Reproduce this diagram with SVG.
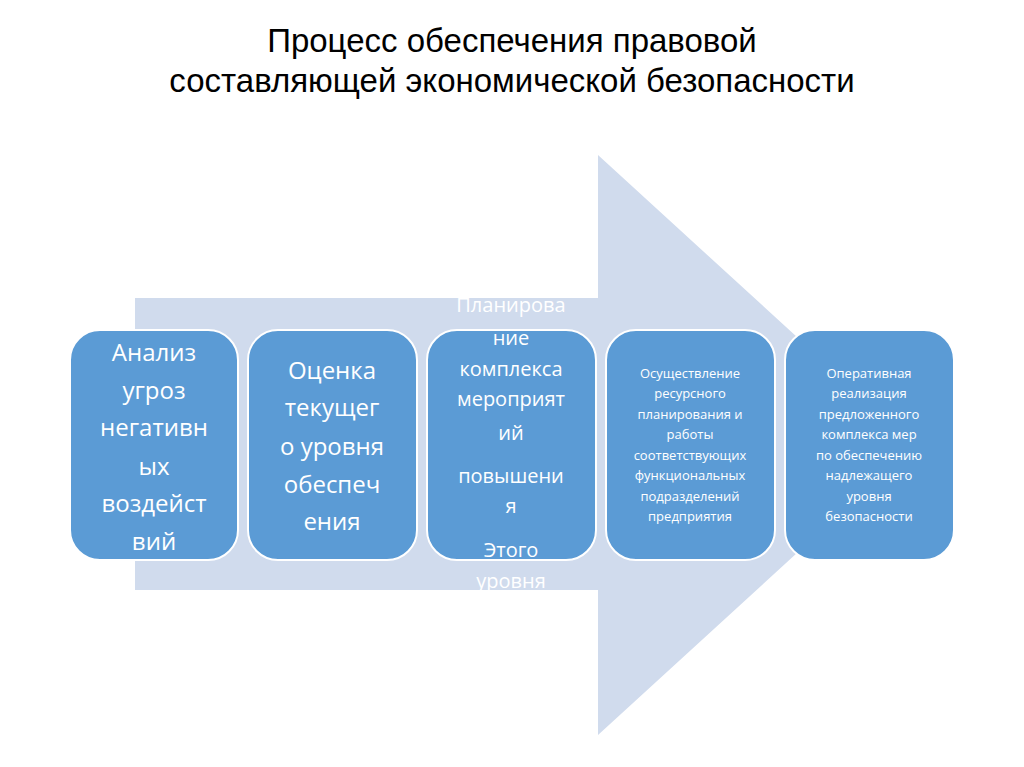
<svg xmlns="http://www.w3.org/2000/svg" width="1024" height="767" viewBox="0 0 1024 767">
<style>
.t{font-family:"Liberation Sans",Arial,sans-serif;fill:#000;font-size:33px;text-anchor:middle}
.b{fill:#5b9bd5;stroke:#fff;stroke-width:2}
.L{font-family:"Open Sans","Noto Sans",sans-serif;fill:#fff;font-size:24px;text-anchor:middle}
.S{font-family:"Open Sans","Noto Sans",sans-serif;fill:#fff;font-size:13px;text-anchor:middle}
</style>
<rect width="1024" height="767" fill="#fff"/>
<text class="t" x="512" y="52">Процесс обеспечения правовой</text>
<text class="t" x="512" y="92">составляющей экономической безопасности</text>
<g id="connectors">
<polygon points="135,298 598,298 598,155 915,445 598,735 598,590 135,590" fill="#d0dbed"/>
</g>
<g id="n1"><rect class="b" x="70" y="330" width="168" height="230" rx="30"/>
<text class="L" x="154" y="361">Анализ</text><text class="L" x="154" y="399">угроз</text><text class="L" x="154" y="436">негативн</text><text class="L" x="154" y="475">ых</text><text class="L" x="154" y="512">воздейст</text><text class="L" x="154" y="550">вий</text></g>
<g id="n2"><rect class="b" x="248" y="330" width="169" height="230" rx="30"/>
<text class="L" x="332" y="379">Оценка</text><text class="L" x="332" y="416">текущег</text><text class="L" x="332" y="455">о уровня</text><text class="L" x="332" y="493">обеспеч</text><text class="L" x="332" y="530">ения</text></g>
<g id="n3"><rect class="b" x="427" y="330" width="169" height="230" rx="30"/>
<g font-size="20"><text class="L" style="font-size:20px" x="511" y="312">Планирова</text><text class="L" style="font-size:20px" x="511" y="345">ние</text><text class="L" style="font-size:20px" x="511" y="376">комплекса</text><text class="L" style="font-size:20px" x="511" y="406">мероприят</text><text class="L" style="font-size:20px" x="511" y="440">ий</text><text class="L" style="font-size:20px" x="511" y="483">повышени</text><text class="L" style="font-size:20px" x="511" y="513">я</text><text class="L" style="font-size:20px" x="511" y="557">Этого</text><text class="L" style="font-size:20px" x="511" y="588">уровня</text></g></g>
<g id="n4"><rect class="b" x="606" y="330" width="169" height="230" rx="30"/>
<text class="S" x="690" y="378">Осуществление</text><text class="S" x="690" y="398">ресурсного</text><text class="S" x="690" y="419">планирования и</text><text class="S" x="690" y="439">работы</text><text class="S" x="690" y="460">соответствующих</text><text class="S" x="690" y="480">функциональных</text><text class="S" x="690" y="501">подразделений</text><text class="S" x="690" y="521">предприятия</text></g>
<g id="n5"><rect class="b" x="785" y="330" width="169" height="230" rx="30"/>
<text class="S" x="869" y="378">Оперативная</text><text class="S" x="869" y="398">реализация</text><text class="S" x="869" y="419">предложенного</text><text class="S" x="869" y="439">комплекса мер</text><text class="S" x="869" y="460">по обеспечению</text><text class="S" x="869" y="480">надлежащего</text><text class="S" x="869" y="501">уровня</text><text class="S" x="869" y="521">безопасности</text></g>
</svg>
